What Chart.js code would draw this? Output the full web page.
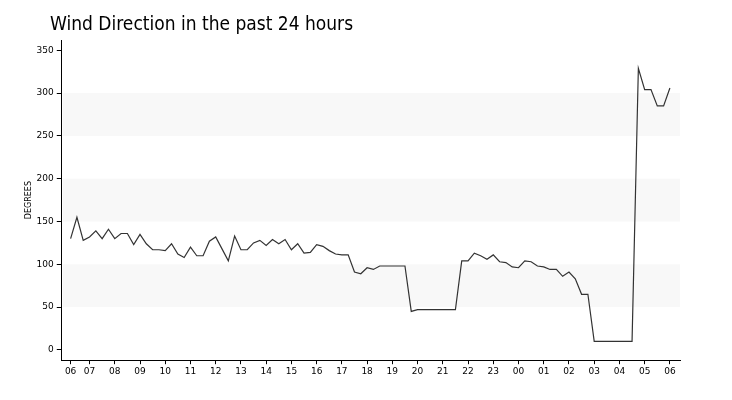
<!DOCTYPE html>
<html>
<head>
<meta charset="utf-8">
<script src="https://cdn.jsdelivr.net/npm/chart.js@4.4.1/dist/chart.umd.min.js"></script>
<style>
  html, body { margin: 0; padding: 0; background: #fff; }
  #wrap { width: 732px; height: 400px; }
</style>
</head>
<body>
<div id="wrap"><canvas id="windChart"></canvas></div>
<script>
// readings every 15 minutes, 06:15 -> 06:00 next day
const degrees = [
  130, 155, 128, 132, 139, 130, 141, 130, 136, 136, 123, 135,
  124, 117, 117, 116, 124, 112, 108, 120, 110, 110, 127, 132,
  118, 104, 133, 117, 117, 125, 128, 122, 129, 124, 129, 117,
  124, 113, 114, 123, 121, 116, 112, 111, 111, 91, 89, 96,
  94, 98, 98, 98, 98, 98, 45, 47, 47, 47, 47, 47,
  47, 47, 104, 104, 113, 110, 106, 111, 103, 102, 97, 96,
  104, 103, 98, 97, 94, 94, 86, 91, 83, 65, 65, 10,
  10, 10, 10, 10, 10, 10, 329, 304, 304, 285, 285, 306
];

// hour labels on the x axis (first one sits on the first reading)
const hourLabels = ['06', '07', '08', '09', '10', '11', '12', '13', '14', '15', '16', '17', '18',
  '19', '20', '21', '22', '23', '00', '01', '02', '03', '04', '05', '06'];
const hourIndex = [0, 3, 7, 11, 15, 19, 23, 27, 31, 35, 39, 43, 47,
  51, 55, 59, 63, 67, 71, 75, 79, 83, 87, 91, 95];

const yTicks = [0, 50, 100, 150, 200, 250, 300, 350];
const bands = [[50, 100], [150, 200], [250, 300]];

const points = degrees.map((v, i) => ({ x: i, y: v }));

// light alternate bands behind the line
const bandPlugin = {
  id: 'bands',
  beforeDatasetsDraw(chart) {
    const { ctx, chartArea, scales } = chart;
    ctx.save();
    ctx.fillStyle = '#f8f8f8';
    bands.forEach(b => {
      const top = scales.y.getPixelForValue(b[1]);
      const bottom = scales.y.getPixelForValue(b[0]);
      ctx.fillRect(chartArea.left + 1, top, chartArea.right - chartArea.left - 1, bottom - top);
    });
    ctx.restore();
  }
};

// title sits a bit left of the plot area
const titlePlugin = {
  id: 'leftTitle',
  afterDraw(chart) {
    const ctx = chart.ctx;
    ctx.save();
    ctx.font = '19px "DejaVu Sans Condensed", "DejaVu Sans", sans-serif';
    ctx.fillStyle = '#000';
    ctx.textBaseline = 'alphabetic';
    ctx.fillText('Wind Direction in the past 24 hours', 50, 30);
    ctx.restore();
  }
};

const ctx = document.getElementById('windChart').getContext('2d');
new Chart(ctx, {
  type: 'line',
  data: {
    datasets: [{
      data: points,
      borderColor: '#333',
      borderWidth: 1.2,
      pointRadius: 0,
      tension: 0,
      fill: false
    }]
  },
  options: {
    responsive: true,
    maintainAspectRatio: false,
    animation: false,
    layout: { padding: { top: 40, right: 52, bottom: 21, left: 24 } },
    plugins: {
      legend: { display: false },
      tooltip: { enabled: false },
      title: { display: false }
    },
    scales: {
      x: {
        type: 'linear',
        min: -1.4,
        max: 96.6,
        afterBuildTicks: scale => { scale.ticks = hourIndex.map(v => ({ value: v })); },
        ticks: {
          autoSkip: false,
          maxRotation: 0,
          padding: 2,
          color: '#000',
          font: { family: '"DejaVu Sans"', size: 9 },
          callback: (value) => hourLabels[hourIndex.indexOf(value)]
        },
        grid: { drawOnChartArea: false, color: '#000', tickLength: 4 },
        border: { color: '#000', width: 1 }
      },
      y: {
        min: -12,
        max: 362,
        afterBuildTicks: scale => { scale.ticks = yTicks.map(v => ({ value: v })); },
        ticks: {
          padding: 3,
          color: '#000',
          font: { family: '"DejaVu Sans"', size: 9 }
        },
        grid: { drawOnChartArea: false, color: '#000', tickLength: 5 },
        border: { color: '#000', width: 1 },
        title: {
          display: true,
          text: 'DEGREES',
          color: '#000',
          padding: 0,
          font: { family: '"DejaVu Sans"', size: 8 }
        }
      }
    }
  },
  plugins: [bandPlugin, titlePlugin]
});
</script>
</body>
</html>
